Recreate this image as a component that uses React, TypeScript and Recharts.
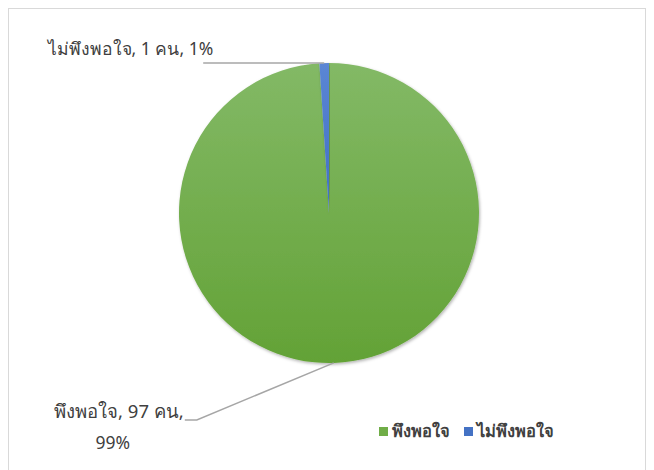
import React from "react";
import { PieChart, Pie, Cell, Legend } from "recharts";

const categories = ["พึงพอใจ", "ไม่พึงพอใจ"];
const counts = [97, 1];
const percentLabels = ["99%", "1%"];
const unit = "คน";

const fills = ["url(#gradGreen)", "url(#gradBlue)"];
const legendColors = ["#70ad47", "#4472c4"];

const data = categories.map((name, i) => ({ name, value: counts[i], pct: percentLabels[i] }));

const FONT = "'Noto Sans', 'DejaVu Sans', sans-serif";
const TEXT = "#404040";
const LINE = "#a6a6a6";

const RAD = Math.PI / 180;

const renderLabel = (props: any) => {
  const { cx, cy, midAngle, outerRadius, index, payload } = props;
  const ex = cx + outerRadius * Math.cos(-midAngle * RAD);
  const ey = cy + outerRadius * Math.sin(-midAngle * RAD);
  const name = payload?.name ?? data[index].name;
  const value = payload?.value ?? data[index].value;
  const pct = payload?.pct ?? data[index].pct;
  if (index === 1) {
    const lx = ex - 121;
    return (
      <g>
        <polyline points={`${ex},${ey} ${lx},${ey}`} stroke={LINE} strokeWidth={1.5} fill="none" />
        <text x={lx + 10} y={ey - 8} textAnchor="end" fontSize={17.5} fill={TEXT} fontFamily={FONT}>
          {`${name}, ${value} ${unit}, ${pct}`}
        </text>
      </g>
    );
  }
  const bx = ex - 137;
  const by = ey + 57;
  const lx = bx - 12;
  return (
    <g>
      <polyline points={`${ex},${ey} ${bx},${by} ${lx},${by}`} stroke={LINE} strokeWidth={1.5} fill="none" />
      <text x={lx - 1} y={by - 2} textAnchor="end" fontSize={18.5} fill={TEXT} fontFamily={FONT}>
        {`${name}, ${value} ${unit},`}
      </text>
      <text x={lx - 72} y={by + 29} textAnchor="middle" fontSize={17.5} fill={TEXT} fontFamily={FONT}>
        {pct}
      </text>
    </g>
  );
};

const renderLegend = () => (
  <div style={{ display: "flex", alignItems: "center", fontFamily: FONT, fontWeight: 700, fontSize: 16.5, color: TEXT }}>
    {categories.map((c, i) => (
      <div key={c} style={{ display: "flex", alignItems: "center", marginRight: 14 }}>
        <span style={{ display: "inline-block", width: 9, height: 9, background: legendColors[i], marginRight: 4 }} />
        <span>{c}</span>
      </div>
    ))}
  </div>
);

export default function App() {
  return (
    <div style={{ position: "absolute", left: 0, top: 0, width: 654, height: 470, background: "#fff", overflow: "hidden" }}>
      <div style={{ position: "absolute", left: 8, top: 8, width: 636, height: 480, border: "1px solid #d9d9d9" }} />
      <PieChart width={654} height={470} margin={{ top: 0, right: 0, bottom: 0, left: 0 }} style={{ position: "absolute", left: 0, top: 0 }}>
        <defs>
          <linearGradient id="gradGreen" x1="0" y1="0" x2="0" y2="1">
            <stop offset="0%" stopColor="#83b966" />
            <stop offset="100%" stopColor="#63a236" />
          </linearGradient>
          <linearGradient id="gradBlue" x1="0" y1="0" x2="0" y2="1">
            <stop offset="0%" stopColor="#5b86d4" />
            <stop offset="100%" stopColor="#3f6fc5" />
          </linearGradient>
          <filter id="shadow" x="-10%" y="-10%" width="120%" height="120%">
            <feDropShadow dx="1" dy="1.5" stdDeviation="1.5" floodColor="#000" floodOpacity="0.3" />
          </filter>
        </defs>
        <Pie
          data={data}
          dataKey="value"
          nameKey="name"
          cx={329}
          cy={213}
          outerRadius={150}
          startAngle={90}
          endAngle={-270}
          stroke="none"
          isAnimationActive={false}
          label={renderLabel}
          labelLine={false}
          style={{ filter: "url(#shadow)" }}
        >
          {data.map((d, i) => (
            <Cell key={d.name} fill={fills[i]} />
          ))}
        </Pie>
        <Legend content={renderLegend} wrapperStyle={{ position: "absolute", left: 379, top: 418, width: 240 }} />
      </PieChart>
    </div>
  );
}
